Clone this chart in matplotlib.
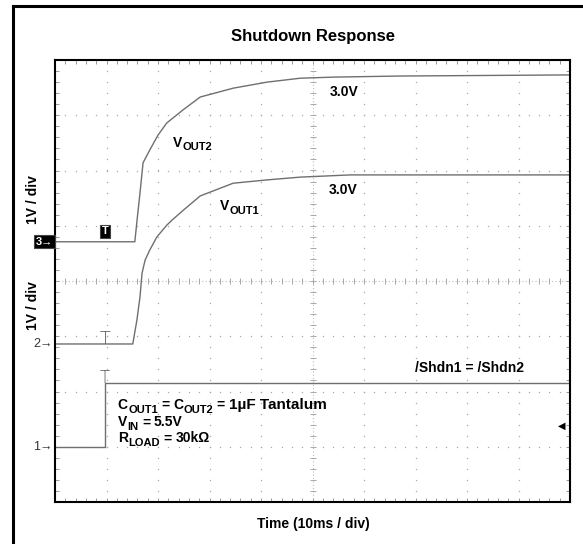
import matplotlib
matplotlib.use('Agg')
import matplotlib.pyplot as plt
import numpy as np
from matplotlib.lines import Line2D
from matplotlib.ticker import MultipleLocator
import matplotlib.transforms as mtransforms

plt.rcParams['font.family'] = ['Liberation Sans', 'DejaVu Sans']

# ---------------- data (time in ms, voltage in V; scope 1 V/div, 10 ms/div) ----------------
ch_offsets = [1.0, 2.86, 4.71]          # ground marker position (divisions) of ch1, ch2, ch3
ch_names = ['1', '2', '3']

shdn_t = [0, 9.7, 9.7, 100]
shdn_v = [0, 0, 1.15, 1.15]

vout1_t = [0, 15.1, 15.9, 16.5, 16.9, 17.5, 18.4, 19.8, 21.7, 22.7, 24.9, 28.2, 34.6, 41.2, 47.6, 57.3, 100]
vout1_v = [0, 0, 0.43, 0.85, 1.28, 1.52, 1.70, 1.94, 2.15, 2.24, 2.42, 2.68, 2.91, 2.97, 3.02, 3.06, 3.06]

vout2_t = [0, 15.5, 16.0, 16.5, 17.1, 18.4, 20.0, 21.7, 24.9, 28.2, 34.6, 41.2, 47.6, 54.0, 67.0, 100]
vout2_v = [0, 0, 0.45, 0.88, 1.43, 1.66, 1.93, 2.15, 2.39, 2.62, 2.78, 2.89, 2.96, 2.98, 3.00, 3.02]

trigger_t = 9.7
trigger_level = 0.375

# ---------------- figure ----------------
W, H = 583, 544
fig = plt.figure(figsize=(W / 100, H / 100), dpi=100)
ax = fig.add_axes([55 / W, 42 / H, 515 / W, 442 / H])
ax.set_xlim(0, 100)
ax.set_ylim(0, 8)
renderer = fig.canvas.get_renderer()

# outer frame (left and top only, cropped)
fig.add_artist(Line2D([13 / W, 13 / W], [0, 1 - 6 / H], transform=fig.transFigure, color='black', lw=2.2))
fig.add_artist(Line2D([13 / W, 1], [1 - 6 / H, 1 - 6 / H], transform=fig.transFigure, color='black', lw=2.2))

# graticule
gcol = '#a8a8a8'
for gx in np.arange(10, 100, 10):
    if gx == 50:
        continue
    ys = np.arange(0.2, 8, 0.2)
    ax.plot(np.full_like(ys, gx), ys, ls='none', marker='s', ms=0.9, color=gcol, mew=0)
for gy in np.arange(1, 8, 1):
    if gy == 4:
        continue
    xs = np.arange(2, 100, 2)
    ax.plot(xs, np.full_like(xs, gy, dtype=float), ls='none', marker='s', ms=0.9, color=gcol, mew=0)
# center cross
ax.axhline(4, color='#bdbdbd', lw=0.8, ls=(0, (1, 2)))
ax.axvline(50, color='#bdbdbd', lw=0.8, ls=(0, (1, 2)))
cx = np.arange(2, 100, 2)
ax.plot(cx, np.full_like(cx, 4.0, dtype=float), ls='none', marker='|', ms=4, mew=0.7, color=gcol)
cy = np.arange(0.2, 8, 0.2)
ax.plot(np.full_like(cy, 50.0), cy, ls='none', marker='_', ms=4, mew=0.7, color=gcol)

ax.xaxis.set_major_locator(MultipleLocator(10))
ax.xaxis.set_minor_locator(MultipleLocator(2))
ax.yaxis.set_major_locator(MultipleLocator(1))
ax.yaxis.set_minor_locator(MultipleLocator(0.2))
ax.tick_params(which='both', direction='in', length=3, width=0.7, color='#999999',
               top=True, right=True, labelbottom=False, labelleft=False)
for s in ax.spines.values():
    s.set_linewidth(1.5)
    s.set_color('black')

# traces
tcol = '#6f6f6f'
ax.plot(shdn_t, np.array(shdn_v) + ch_offsets[0], color=tcol, lw=1.0)
ax.plot(vout1_t, np.array(vout1_v) + ch_offsets[1], color=tcol, lw=1.0)
ax.plot(vout2_t, np.array(vout2_v) + ch_offsets[2], color=tcol, lw=1.0)

# channel ground markers
btrans = mtransforms.blended_transform_factory(ax.transAxes, ax.transData)
ax.text(-0.004, ch_offsets[2], ch_names[2] + '→', transform=btrans, ha='right', va='center', fontsize=8,
        fontweight='bold', color='white',
        bbox=dict(boxstyle='square,pad=0.15', fc='black', ec='#444444', lw=0.8))
ax.text(-0.004, ch_offsets[1], ch_names[1] + '→', transform=btrans, ha='right', va='center', fontsize=9, color='#333333')
ax.text(-0.004, ch_offsets[0], ch_names[0] + '→', transform=btrans, ha='right', va='center', fontsize=9, color='#333333')
ax.text(0.984, ch_offsets[0] + trigger_level, '◀', transform=btrans, ha='center', va='center',
        fontsize=7, color='black', family=['DejaVu Sans'])

# trigger markers
ax.text(trigger_t, ch_offsets[2] + 0.19, 'T', ha='center', va='center', fontsize=8, fontweight='bold',
        color='white', bbox=dict(boxstyle='square,pad=0.12', fc='black', ec='#444444', lw=0.8))
ax.text(trigger_t, ch_offsets[1], 'T', ha='center', va='baseline', fontsize=13, color='#555555',
        family=['DejaVu Sans'], fontweight='light')
ax.text(trigger_t, ch_offsets[0] + shdn_v[-1], 'T', ha='center', va='baseline', fontsize=12, color='#555555',
        family=['DejaVu Sans'], fontweight='light')

# rich text helper: pieces of (text, fontsize, baseline shift pts, gap after pts)
FS = 10
SUB = 8
SDY = -2.4


def rich(x, y, pieces):
    off = 0.0
    for txt, size, dy, gap in pieces:
        tr = mtransforms.offset_copy(ax.transData, fig=fig, x=off, y=dy, units='points')
        t = ax.text(x, y, txt, transform=tr, ha='left', va='baseline', fontsize=size, fontweight='bold')
        w = t.get_window_extent(renderer).width * 72 / fig.dpi
        off += w + gap


sp = 2.6
ax.text(53.4, 7.42, '3.0V', ha='left', va='center', fontsize=FS, fontweight='bold')
ax.text(53.2, 5.65, '3.0V', ha='left', va='center', fontsize=FS, fontweight='bold')
rich(22.9, 6.43, [('V', FS, 0, 0.2), ('OUT2', SUB, SDY, 0)])
rich(32.0, 5.28, [('V', FS, 0, 0.2), ('OUT1', SUB, SDY, 0)])
ax.text(69.9, 2.35, '/Shdn1 = /Shdn2', ha='left', va='baseline', fontsize=FS, fontweight='bold')
rich(12.2, 1.68, [('C', FS, 0, 0.2), ('OUT1', SUB, SDY, sp), ('=', FS, 0, sp), ('C', FS, 0, 0.2),
                  ('OUT2', SUB, SDY, sp), ('=', FS, 0, sp), ('1µF Tantalum', 11, 0, 0)])
rich(12.2, 1.37, [('V', FS, 0, 0.2), ('IN', SUB, SDY, sp), ('=', FS, 0, sp), ('5.5V', FS, 0, 0)])
rich(12.2, 1.08, [('R', FS, 0, 0.2), ('LOAD', SUB, SDY, sp), ('=', FS, 0, sp), ('30kΩ', FS, 0, 0)])

# titles and axis labels
fig.text(313 / W, 1 - 37 / H, 'Shutdown Response', ha='center', va='center', fontsize=12, fontweight='bold')
fig.text(313 / W, 1 - 524 / H, 'Time (10ms / div)', ha='center', va='center', fontsize=10, fontweight='bold')
fig.text(33 / W, 1 - 200 / H, '1V / div', ha='center', va='center', rotation=90, fontsize=10, fontweight='bold')
fig.text(33 / W, 1 - 306 / H, '1V / div', ha='center', va='center', rotation=90, fontsize=10, fontweight='bold')

fig.savefig('out.png', dpi=100)
